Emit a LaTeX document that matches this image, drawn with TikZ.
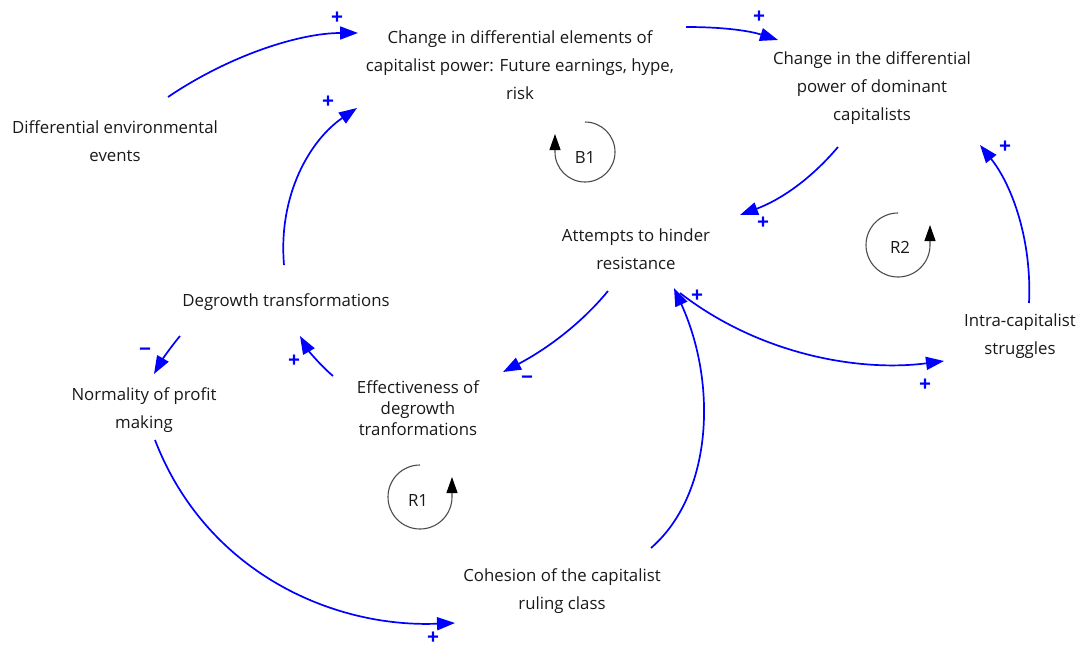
\documentclass[tikz,border=0pt]{standalone}
\usepackage{fontspec}
\setmainfont{Open Sans}
\usetikzlibrary{arrows.meta}
\definecolor{arrowblue}{RGB}{0,0,255}
\definecolor{txt}{RGB}{25,25,25}
\begin{document}
\begin{tikzpicture}[x=1pt,y=-1pt,
  var/.style={align=center, font=\fontsize{16.8}{28}\selectfont, text=txt, inner sep=0pt},
  link/.style={draw=arrowblue, line width=1.7pt, -{Triangle[length=18pt,width=13pt]}},
  pol/.style={text=arrowblue, font=\fontsize{21}{21}\selectfont\bfseries, inner sep=0pt},
  loopmk/.style={draw=black!70, line width=1.1pt, -{Triangle[length=16pt,width=11pt,color=black]}},
  looplbl/.style={font=\fontsize{16.8}{17}\selectfont, text=txt, inner sep=0pt}]
\useasboundingbox (0,0) rectangle (1083,648);

% variables
\node[var] (top) at (520,65) {Change in differential elements of\\capitalist power: Future earnings, hype,\\risk};
\node[var] (dom) at (872,88) {Change in the differential\\power of dominant\\capitalists};
\node[var] (env) at (115,141) {Differential environmental\\events};
\node[var] (att) at (636,249) {Attempts to hinder\\resistance};
\node[var] (deg) at (286,302) {Degrowth transformations};
\node[var] (intra) at (1020,336) {Intra-capitalist\\struggles};
\node[var] (norm) at (144,410) {Normality of profit\\making};
\node[var, font=\fontsize{16.8}{21}\selectfont] (eff) at (418,408) {Effectiveness of\\degrowth\\tranformations};
\node[var] (coh) at (562,591) {Cohesion of the capitalist\\ruling class};

% connector end points
\coordinate (e1s) at (168,97);   \coordinate (e1t) at (358,33);
\coordinate (e2s) at (686,27);   \coordinate (e2t) at (778,40);
\coordinate (e3s) at (838,147);  \coordinate (e3t) at (740,215);
\coordinate (e4s) at (608,291);  \coordinate (e4t) at (503,372);
\coordinate (e5s) at (333,376);  \coordinate (e5t) at (300,336);
\coordinate (e6s) at (180,336);  \coordinate (e6t) at (154,374);
\coordinate (e7s) at (284,265);  \coordinate (e7t) at (357,108);
\coordinate (e8s) at (155,440);  \coordinate (e8t) at (455,623);
\coordinate (e9s) at (651,548);  \coordinate (e9t) at (674,288);
\coordinate (e10s) at (680,293); \coordinate (e10t) at (944,361);
\coordinate (e11s) at (1029,303); \coordinate (e11t) at (980,145);

% connectors
\draw[link] (e1s) .. controls (230,55) and (300,33) .. (e1t);
\draw[link] (e2s) .. controls (725,27) and (750,31) .. (e2t);
\draw[link] (e3s) .. controls (810,180) and (780,200) .. (e3t);
\draw[link] (e4s) .. controls (580,325) and (545,350) .. (e4t);
\draw[link] (e5s) .. controls (320,365) and (308,350) .. (e5t);
\draw[link] (e6s) .. controls (170,348) and (162,360) .. (e6t);
\draw[link] (e7s) .. controls (278,195) and (310,140) .. (e7t);
\draw[link] (e8s) .. controls (205,570) and (330,628) .. (e8t);
\draw[link] (e9s) .. controls (712,495) and (718,385) .. (e9t);
\draw[link] (e10s) .. controls (760,355) and (860,372) .. (e10t);
\draw[link] (e11s) .. controls (1032,240) and (1012,185) .. (e11t);

% polarities
\node[pol] (p1) at (337,18) {+};
\node[pol] (p2) at (759,17) {+};
\node[pol] (p3) at (763,223) {+};
\node[pol] (p4) at (527,380) {−};
\node[pol] (p5) at (294,361) {+};
\node[pol] (p6) at (145,352) {−};
\node[pol] (p7) at (328,102) {+};
\node[pol] (p8) at (433,638) {+};
\node[pol] (p9) at (697,296) {+};
\node[pol] (p10) at (925,385) {+};
\node[pol] (p11) at (1005,147) {+};

% loop markers
\node[looplbl] (b1) at (585,157) {B1};
\draw[loopmk] (585,122) arc[start angle=90, end angle=-180, radius=30pt] -- ++(0,-18);
\node[looplbl] (r2) at (900,247) {R2};
\draw[loopmk] (898,213) arc[start angle=90, end angle=360, radius=32pt] -- ++(0,-20);
\node[looplbl] (r1) at (418,500) {R1};
\draw[loopmk] (420,465) arc[start angle=90, end angle=360, radius=32pt] -- ++(0,-20);
\end{tikzpicture}
\end{document}
